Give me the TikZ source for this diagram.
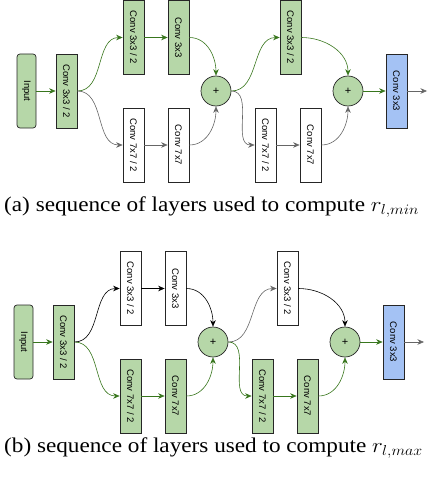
\documentclass[tikz,border=0pt]{standalone}
\usepackage{fontspec}
\setmainfont{Liberation Serif}
\setsansfont{Liberation Sans}
\usetikzlibrary{arrows.meta}
\definecolor{boxgreen}{HTML}{B6D7A8}
\definecolor{boxblue}{HTML}{A4C2F4}
\definecolor{arrgreen}{HTML}{38761D}
\definecolor{arrgrey}{HTML}{666666}
\begin{document}
\begin{tikzpicture}[x=1pt,y=-1pt,
  box/.style={draw=black!85, line width=0.7pt, minimum width=21pt, minimum height=74pt, inner sep=0pt, font=\sffamily\fontsize{9.5}{10}\selectfont},
  gbox/.style={box, fill=boxgreen},
  wbox/.style={box, fill=white},
  blbox/.style={box, fill=boxblue},
  inbox/.style={box, fill=boxgreen, rounded corners=3pt, minimum width=19pt},
  plusnode/.style={circle, draw=black!85, line width=0.7pt, fill=boxgreen, minimum size=30pt, inner sep=0pt, font=\sffamily\fontsize{11}{11}\selectfont},
  arr/.style={-{Stealth[length=6.5pt,width=5.5pt]}, line width=0.6pt},
  ga/.style={arr, draw=arrgreen},
  gra/.style={arr, draw=arrgrey},
  ba/.style={arr, draw=black},
  captext/.style={anchor=base west, inner sep=0pt, font=\fontsize{21}{22}\selectfont}
]
\useasboundingbox (0,0) rectangle (428,492);
% ---------- (a)
\node[inbox] (ainp) at (26.5,91) {\rotatebox{-90}{Input}};
\node[gbox] (ac1) at (66.5,91) {\rotatebox{-90}{Conv 3x3 / 2}};
\node[gbox] (at1) at (133.5,37.5) {\rotatebox{-90}{Conv 3x3 / 2}};
\node[gbox] (at2) at (178.5,37.5) {\rotatebox{-90}{Conv 3x3}};
\node[wbox] (ab1) at (133.5,145) {\rotatebox{-90}{Conv 7x7 / 2}};
\node[wbox] (ab2) at (178.5,145) {\rotatebox{-90}{Conv 7x7}};
\node[plusnode] (ap1) at (216,91) {+};
\node[gbox] (at3) at (290.5,37.5) {\rotatebox{-90}{Conv 3x3 / 2}};
\node[wbox] (ab3) at (265.5,145) {\rotatebox{-90}{Conv 7x7 / 2}};
\node[wbox] (ab4) at (310.5,145) {\rotatebox{-90}{Conv 7x7}};
\node[plusnode] (ap2) at (348,91) {+};
\node[blbox] (abl) at (396.5,91) {\rotatebox{-90}{Conv 3x3}};
\coordinate (aout) at (427,91);
\draw[ga] (ainp.east) -- (ac1.west);
\draw[ga] (ac1.east) to[out=0,in=180] (at1.west);
\draw[ga] (at1.east) -- (at2.west);
\draw[ga] (at2.east) to[out=0,in=90] (ap1.north);
\draw[gra] (ac1.east) to[out=0,in=180] (ab1.west);
\draw[gra] (ab1.east) -- (ab2.west);
\draw[gra] (ab2.east) to[out=0,in=-90] (ap1.south);
\draw[ga] (ap1.east) to[out=0,in=180] (at3.west);
\draw[gra] (ap1.east) to[out=0,in=180] (ab3.west);
\draw[gra] (ab3.east) -- (ab4.west);
\draw[gra] (ab4.east) to[out=0,in=-90] (ap2.south);
\draw[ga] (at3.east) to[out=0,in=90] (ap2.north);
\draw[ga] (ap2.east) -- (abl.west);
\draw[gra] (abl.east) -- (aout);
\node[captext] (acap) at (4,211) {\scalebox{1.105}[1]{(a) sequence of layers used to compute $r_{l,min}$}};
% ---------- (b)
\begin{scope}[shift={(-3,251)}]
\node[inbox] (binp) at (26.5,91) {\rotatebox{-90}{Input}};
\node[gbox] (bc1) at (66.5,91) {\rotatebox{-90}{Conv 3x3 / 2}};
\node[wbox] (bt1) at (133.5,37.5) {\rotatebox{-90}{Conv 3x3 / 2}};
\node[wbox] (bt2) at (178.5,37.5) {\rotatebox{-90}{Conv 3x3}};
\node[gbox] (bb1) at (133.5,145) {\rotatebox{-90}{Conv 7x7 / 2}};
\node[gbox] (bb2) at (178.5,145) {\rotatebox{-90}{Conv 7x7}};
\node[plusnode] (bp1) at (216,91) {+};
\node[wbox] (bt3) at (290.5,37.5) {\rotatebox{-90}{Conv 3x3 / 2}};
\node[gbox] (bb3) at (265.5,145) {\rotatebox{-90}{Conv 7x7 / 2}};
\node[gbox] (bb4) at (310.5,145) {\rotatebox{-90}{Conv 7x7}};
\node[plusnode] (bp2) at (348,91) {+};
\node[blbox] (bbl) at (396.5,91) {\rotatebox{-90}{Conv 3x3}};
\coordinate (bout) at (427,91);
\draw[ga] (binp.east) -- (bc1.west);
\draw[ba] (bc1.east) to[out=0,in=180] (bt1.west);
\draw[ba] (bt1.east) -- (bt2.west);
\draw[ba] (bt2.east) to[out=0,in=90] (bp1.north);
\draw[ga] (bc1.east) to[out=0,in=180] (bb1.west);
\draw[ga] (bb1.east) -- (bb2.west);
\draw[ga] (bb2.east) to[out=0,in=-90] (bp1.south);
\draw[gra] (bp1.east) to[out=0,in=180] (bt3.west);
\draw[ga] (bp1.east) to[out=0,in=180] (bb3.west);
\draw[ga] (bb3.east) -- (bb4.west);
\draw[ga] (bb4.east) to[out=0,in=-90] (bp2.south);
\draw[ba] (bt3.east) to[out=0,in=90] (bp2.north);
\draw[ga] (bp2.east) -- (bbl.west);
\draw[gra] (bbl.east) -- (bout);
\end{scope}
\node[captext] (bcap) at (4,452) {\scalebox{1.105}[1]{(b) sequence of layers used to compute $r_{l,max}$}};
\end{tikzpicture}
\end{document}
